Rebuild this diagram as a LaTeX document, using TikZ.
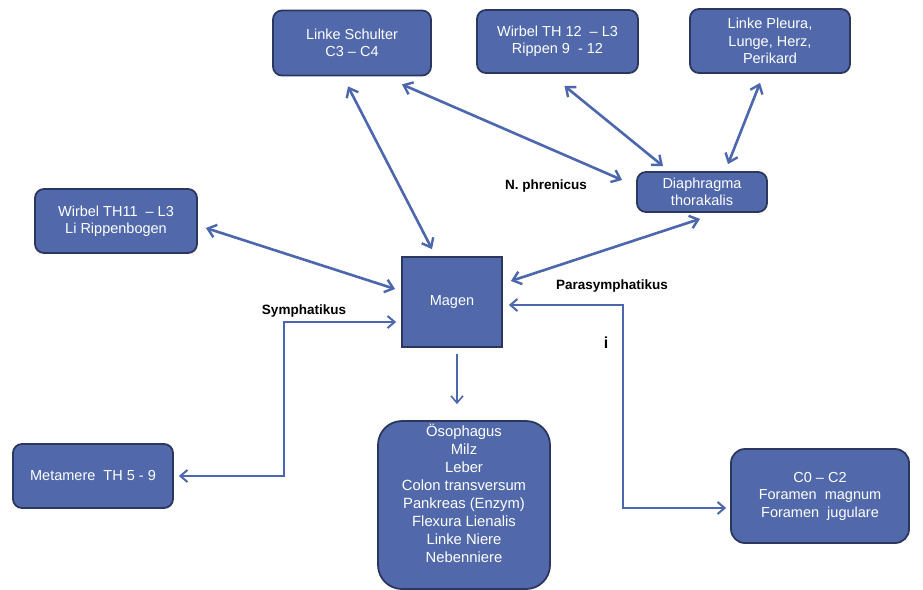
\documentclass[tikz,border=0pt]{standalone}
\usepackage{fontspec}
\setmainfont{Liberation Sans}
\usetikzlibrary{arrows.meta}
\definecolor{boxfill}{HTML}{5169AA}
\definecolor{boxline}{HTML}{2B375F}
\definecolor{arrowc}{HTML}{4D67AE}
\begin{document}
\begin{tikzpicture}[x=1pt,y=-1pt,
  box/.style={draw=boxline, line width=1.8pt, fill=boxfill, rounded corners=9pt,
    text=white, align=center, font=\fontsize{14.5}{17.5}\selectfont, inner sep=0pt},
  con/.style={draw=arrowc, line width=2.6pt, line cap=round,
    {Straight Barb[length=8pt,width=13pt,line width=2.4pt]}-{Straight Barb[length=8pt,width=13pt,line width=2.4pt]}},
  elb/.style={draw=arrowc, line width=2.2pt,
    {Straight Barb[length=7pt,width=12pt,line width=2pt]}-{Straight Barb[length=7pt,width=12pt,line width=2pt]}},
  single/.style={draw=arrowc, line width=1.6pt,
    -{Straight Barb[length=7pt,width=12pt,line width=1.6pt]}},
  lbl/.style={font=\fontsize{13.5}{16}\selectfont\bfseries, text=black, inner sep=0pt}]
\useasboundingbox (0,0) rectangle (923,589);
\fill[white] (0,0) rectangle (923,589);

\node[box, minimum width=158pt, minimum height=65pt] (schulter) at (352,43) {Linke Schulter\\C3 -- C4};
\node[box, minimum width=161pt, minimum height=63pt] (th12) at (557.5,41.5) {Wirbel TH 12 \ -- L3\\Rippen 9 \ - 12};
\node[box, minimum width=160pt, minimum height=64pt] (pleura) at (770,41) {Linke Pleura,\\Lunge, Herz,\\Perikard};
\node[box, minimum width=130pt, minimum height=40pt] (dia) at (702,192) {Diaphragma\\thorakalis};
\node[box, minimum width=162pt, minimum height=64pt] (th11) at (116,221) {Wirbel TH11 \ -- L3\\Li Rippenbogen};
\node[box, rounded corners=0pt, minimum width=100pt, minimum height=90pt] (magen) at (452,302) {Magen};
\node[box, minimum width=160pt, minimum height=64pt] (met) at (93,476) {Metamere \ TH 5 - 9};
\node[box, rounded corners=24pt, minimum width=172pt, minimum height=168pt,
  font=\fontsize{14.8}{18.1}\selectfont] (org) at (464,505)
  {Ösophagus\\Milz\\Leber\\Colon transversum\\Pankreas (Enzym)\\Flexura Lienalis\\Linke Niere\\Nebenniere\\\strut};
\node[box, rounded corners=14pt, minimum width=178pt, minimum height=94pt] (c0) at (820,496)
  {C0 -- C2\\Foramen \ magnum\\Foramen \ jugulare};

\node[lbl] (phren) at (546,186) {N. phrenicus};
\node[lbl] (sym) at (304,311) {Symphatikus};
\node[lbl] (para) at (612,286) {Parasymphatikus};
\node[lbl, font=\fontsize{16}{18}\selectfont\bfseries] (ii) at (606,343) {i};

\draw[con] ([shift={(-4,10)}]schulter.south) -- ([shift={(-20,-7)}]magen.north);
\draw[con] ([shift={(50,8)}]schulter.south) -- ([shift={(-14,-12)}]dia.west);
\draw[con] ([shift={(7,12)}]th12.south) -- ([shift={(-39,-5)}]dia.north);
\draw[con] ([shift={(-10,9)}]pleura.south) -- ([shift={(26,-7)}]dia.north);
\draw[con] ([shift={(8,7)}]th11.east) -- ([shift={(-6,-13)}]magen.west);
\draw[con] ([shift={(-2,6)}]dia.south) -- ([shift={(8,-21)}]magen.east);

\draw[elb] ([shift={(5,0)}]met.east) -| ([shift={(-117,20)}]magen.west) -- ([shift={(-5,20)}]magen.west);
\draw[elb] ([shift={(6,3)}]magen.east) -- ([shift={(120,3)}]magen.east) |- ([shift={(-4,12)}]c0.west);
\draw[single] ([shift={(5,6)}]magen.south) -- ([shift={(-7,-16)}]org.north);
\end{tikzpicture}
\end{document}
